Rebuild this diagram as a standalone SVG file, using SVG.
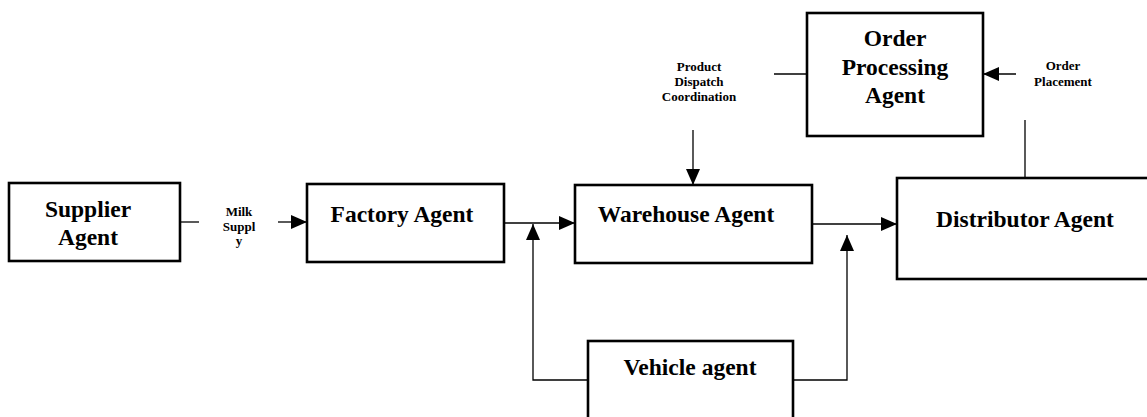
<svg xmlns="http://www.w3.org/2000/svg" width="1147" height="417" viewBox="0 0 1147 417">
  <style>
    .box { fill: #fff; stroke: #000; stroke-width: 2.6; }
    .title { font-family: "Liberation Serif", "Times New Roman", serif; font-weight: bold; font-size: 23.5px; fill: #000; text-anchor: middle; }
    .small { font-family: "Liberation Serif", "Times New Roman", serif; font-weight: bold; font-size: 13px; fill: #000; text-anchor: middle; }
    .wire { fill: none; stroke: #000; stroke-width: 1.3; }
  </style>
  <defs>
    <marker id="headBig" viewBox="0 0 16 14" refX="16" refY="7" markerWidth="16" markerHeight="14" markerUnits="userSpaceOnUse" orient="auto">
      <path d="M0,0 L16,7 L0,14 z" fill="#000"/>
    </marker>
  </defs>

  <rect width="1147" height="417" fill="#fff"/>

  <!-- connectors -->
  <g id="connectors">
    <!-- supplier to factory -->
    <line class="wire" x1="180" y1="222" x2="199" y2="222"/>
    <line class="wire" x1="278" y1="222" x2="307" y2="222" marker-end="url(#headBig)"/>
    <!-- factory to warehouse -->
    <line class="wire" x1="504" y1="223" x2="575" y2="223" marker-end="url(#headBig)"/>
    <!-- vehicle feeds into factory/warehouse link -->
    <polyline class="wire" points="588,380 533,380 533,224" marker-end="url(#headBig)"/>
    <!-- warehouse to distributor -->
    <line class="wire" x1="812" y1="224" x2="897" y2="224" marker-end="url(#headBig)"/>
    <!-- vehicle feeds into warehouse/distributor link -->
    <polyline class="wire" points="794,380 847,380 847,235" marker-end="url(#headBig)"/>
    <!-- dispatch coordination into warehouse -->
    <line class="wire" x1="693" y1="130" x2="693" y2="185" marker-end="url(#headBig)"/>
    <!-- order processing stub -->
    <line class="wire" x1="774" y1="74" x2="807" y2="74"/>
    <!-- order placement into order processing -->
    <line class="wire" x1="1016" y1="74" x2="983" y2="74" marker-end="url(#headBig)"/>
    <!-- distributor stub -->
    <line class="wire" x1="1025" y1="120" x2="1025" y2="178"/>
  </g>

  <g id="supplier">
    <rect class="box" x="9" y="183" width="171" height="78"/>
    <text class="title" x="88" y="217">Supplier</text>
    <text class="title" x="88" y="245">Agent</text>
  </g>

  <g id="milk-supply-label">
    <text class="small" x="239" y="216">Milk</text>
    <text class="small" x="239" y="231">Suppl</text>
    <text class="small" x="239" y="245">y</text>
  </g>

  <g id="factory">
    <rect class="box" x="307" y="184" width="197" height="78"/>
    <text class="title" x="402" y="222">Factory Agent</text>
  </g>

  <g id="warehouse">
    <rect class="box" x="575" y="185" width="237" height="78"/>
    <text class="title" x="686" y="222">Warehouse Agent</text>
  </g>

  <g id="dispatch-label">
    <text class="small" x="699" y="71">Product</text>
    <text class="small" x="699" y="86">Dispatch</text>
    <text class="small" x="699" y="101">Coordination</text>
  </g>

  <g id="order-processing">
    <rect class="box" x="807" y="13" width="176" height="123"/>
    <text class="title" x="895" y="46">Order</text>
    <text class="title" x="895" y="75">Processing</text>
    <text class="title" x="895" y="103">Agent</text>
  </g>

  <g id="order-placement-label">
    <text class="small" x="1063" y="70">Order</text>
    <text class="small" x="1063" y="86">Placement</text>
  </g>

  <g id="distributor">
    <rect class="box" x="897" y="178" width="260" height="101"/>
    <text class="title" x="1025" y="227">Distributor Agent</text>
  </g>

  <g id="vehicle">
    <rect class="box" x="588" y="341" width="205" height="90"/>
    <text class="title" x="690" y="375">Vehicle agent</text>
  </g>
</svg>
